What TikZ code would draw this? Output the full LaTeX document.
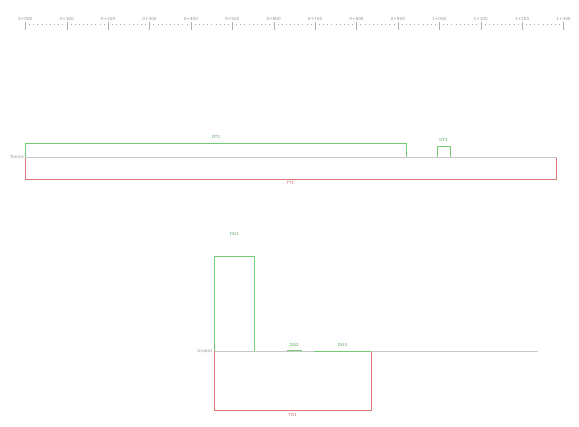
\documentclass[tikz,border=0pt]{standalone}
\usepackage{fontspec}
\setmainfont{DejaVu Sans}
\definecolor{gline}{RGB}{200,200,200}
\definecolor{tickc}{RGB}{175,175,175}
\definecolor{dgreen}{RGB}{115,205,115}
\definecolor{dred}{RGB}{220,120,120}
\definecolor{rtext}{RGB}{150,150,150}
\begin{document}
\begin{tikzpicture}[x=1pt,y=-1pt,
  lbl/.style={font=\fontsize{4.2}{4.2}\selectfont, inner sep=0.5pt},
  rulelbl/.style={lbl, text=rtext},
  axisline/.style={draw=gline, line width=0.6pt},
  dline/.style={draw=dgreen, line width=0.6pt},
  rline/.style={draw=dred, line width=0.6pt},
  gtext/.style={lbl, text=dgreen!80!black},
  redtext/.style={lbl, text=dred!90!black},
  ntext/.style={lbl, text=rtext, anchor=east}]
\useasboundingbox (0,0) rectangle (579,427);
% ruler
\foreach \k/\lab in {0/0+000,1/0+100,2/0+200,3/0+300,4/0+400,5/0+500,6/0+600,7/0+700,8/0+800,9/0+900,10/1+000,11/1+100,12/1+200,13/1+300}{
  \coordinate (tk\k) at ({25.3+41.4*\k},22.5);
  \coordinate (tb\k) at ({25.3+41.4*\k},30);
  \draw[tickc, line width=0.4pt] (tk\k) -- (tb\k);
  \node[rulelbl, anchor=south] (rl\k) at ({25.3+41.4*\k},21.5) {\lab};
}
\foreach \k in {0,...,12}{
  \foreach \j in {1,...,9}{
    \coordinate (m\k-\j) at ({25.3+41.4*\k+4.14*\j},24.2);
    \coordinate (n\k-\j) at ({25.3+41.4*\k+4.14*\j},25.4);
    \draw[tickc, line width=0.45pt] (m\k-\j) -- (n\k-\j);
  }
}
% Tronco
\coordinate (t0) at (25.3,157);
\coordinate (tend) at (557,157);
\coordinate (dt1a) at (25.3,143.3);
\coordinate (dt1b) at (406.3,143.3);
\coordinate (dt1c) at (406.3,157);
\coordinate (dt2a) at (437,157);
\coordinate (dt2b) at (437,146);
\coordinate (dt2c) at (450.3,146);
\coordinate (dt2d) at (450.3,157);
\coordinate (tt1a) at (25.3,179);
\coordinate (tt1b) at (556.3,179);
\coordinate (tt1c) at (556.3,157);
\draw[dline] (t0) -- (dt1a) -- (dt1b) -- (dt1c);
\draw[dline] (dt2a) -- (dt2b) -- (dt2c) -- (dt2d);
\draw[rline] (t0) -- (tt1a) -- (tt1b) -- (tt1c);
\draw[axisline] (t0) -- (tend);
\node[ntext] (tronco) at (24.5,157) {Tronco};
\node[gtext] (ldt1) at (216,136.5) {DT1};
\node[gtext] (ldt2) at (443.5,139.5) {DT2};
\node[redtext] (ltt1) at (290.5,182.5) {TT1};
% Grupo1
\coordinate (g0) at (214.7,351);
\coordinate (gend) at (538,351);
\coordinate (dg1a) at (214.7,256.3);
\coordinate (dg1b) at (254,256.3);
\coordinate (dg1c) at (254,351);
\coordinate (dg2a) at (286.7,350.3);
\coordinate (dg2b) at (301.7,350.3);
\coordinate (dg3a) at (314,351);
\coordinate (dg3b) at (370.7,351);
\coordinate (tg1a) at (214.7,410.7);
\coordinate (tg1b) at (371,410.7);
\coordinate (tg1c) at (371,351);
\draw[rline] (g0) -- (tg1a) -- (tg1b) -- (tg1c);
\draw[axisline] (g0) -- (gend);
\draw[dline] (g0) -- (dg1a) -- (dg1b) -- (dg1c);
\draw[dline] (dg2a) -- (dg2b);
\draw[dline, line width=0.8pt] (dg3a) -- (dg3b);
\node[ntext] (grupo) at (213.5,351) {Grupo1};
\node[gtext] (ldg1) at (234.5,234) {DG1};
\node[gtext] (ldg2) at (294.3,344.5) {DG2};
\node[gtext] (ldg3) at (342.5,345) {DG3};
\node[redtext] (ltg1) at (292.5,414.5) {TG1};
\end{tikzpicture}
\end{document}
